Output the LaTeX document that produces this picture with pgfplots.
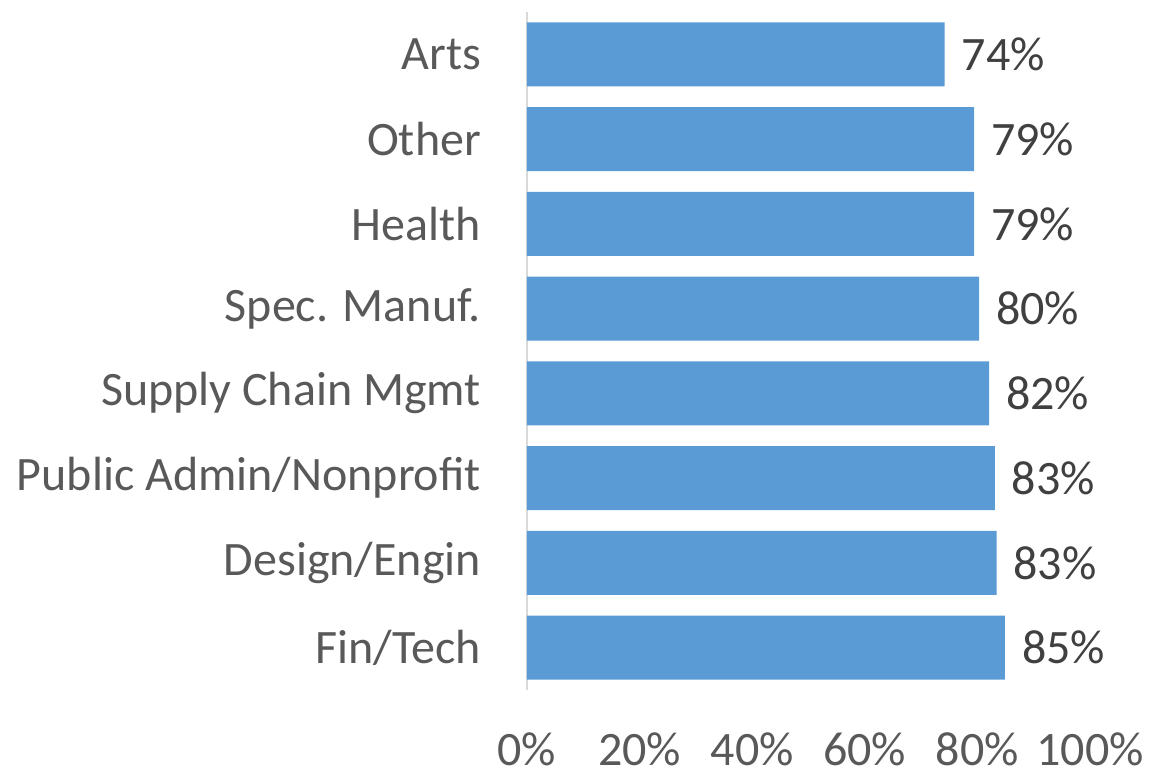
\documentclass[border=0pt]{standalone}
\usepackage{pgfplots}
\pgfplotsset{compat=1.18}
\usepackage{fontspec}
\setmainfont{Carlito}
\definecolor{barblue}{HTML}{5B9BD5}
\definecolor{ticktext}{HTML}{595959}
\definecolor{labeltext}{HTML}{404040}
\definecolor{axisgray}{HTML}{D9D9D9}
\begin{document}
\begin{tikzpicture}
\begin{axis}[
  scale only axis,
  width=281.5pt, height=339pt,
  xbar, bar width=32pt,
  xmin=0, xmax=100,
  ymin=-0.5, ymax=7.5,
  axis y line*=left, axis x line*=bottom,
  x axis line style={draw=none},
  y axis line style={draw=axisgray, line width=1pt},
  major tick length=0pt,
  xtick={0,20,40,60,80,100},
  xticklabels={0\%,20\%,40\%,60\%,80\%,100\%},
  ytick={0,1,2,3,4,5,6,7},
  yticklabels={Fin/Tech,Design/Engin,Public Admin/Nonprofit,Supply Chain Mgmt,Spec. Manuf.,Health,Other,Arts},
  tick label style={font=\fontsize{24}{28}\selectfont, text=ticktext},
  xticklabel style={inner sep=1pt, anchor=north, yshift=-20pt},
  yticklabel style={xshift=-19.5pt},
  point meta=x,
  /pgf/number format/assume math mode=true,
  nodes near coords={\pgfmathprintnumber[fixed,precision=0,assume math mode=true]{\pgfplotspointmeta}\%},
  every node near coord/.append style={font=\fontsize{24}{28}\selectfont, text=labeltext, anchor=west, xshift=5pt},
  clip=false,
]
\addplot[fill=barblue, draw=none] coordinates {
(84.9,0) (83.4,1) (83.1,2) (82.1,3) (80.3,4) (79.4,5) (79.4,6) (74.2,7)
};
\coordinate (bl) at (rel axis cs:-0.936,-0.129);
\coordinate (tr) at (rel axis cs:1.1066,1.0177);
\end{axis}
\pgfresetboundingbox
\useasboundingbox (bl) rectangle (tr);
\end{tikzpicture}
\end{document}
